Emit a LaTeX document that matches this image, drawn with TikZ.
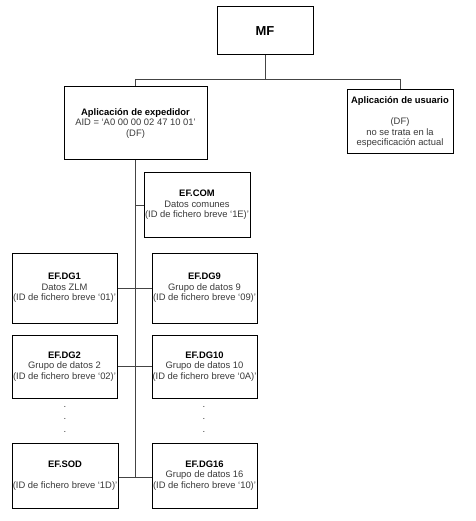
\documentclass[tikz,border=0pt]{standalone}
\usepackage{fontspec}
\setmainfont{Liberation Sans}
\definecolor{txt}{HTML}{3A3A3A}
\definecolor{ln}{HTML}{444444}
\begin{document}
\begin{tikzpicture}[x=1pt,y=-1pt,
  box/.style={draw=black,line width=1pt,fill=white,align=center,inner sep=0pt,
    font=\fontsize{9.4}{10.6}\selectfont,text=txt},
  conn/.style={draw=ln,line width=0.9pt},
  dotcol/.style={font=\fontsize{9.4}{12.5}\selectfont,text=txt,align=center,inner sep=0pt}]
\useasboundingbox[fill=white] (0,0) rectangle (475,521);
\newcommand{\ttl}[1]{\textcolor{black}{\bfseries #1}}
\node[box,minimum width=96,minimum height=48,font=\fontsize{13}{15}\selectfont] (mf) at (265,31) {\ttl{MF}};
\node[box,minimum width=143,minimum height=73] (exp) at (135.5,123.5) {\ttl{Aplicación de expedidor}\\AID = ‘A0 00 00 02 47 10 01’\\(DF)};
\node[box,minimum width=106,minimum height=64] (usr) at (400,122) {\ttl{Aplicación de usuario}\\[10.6pt](DF)\\no se trata en la\\especificación actual};
\node[box,minimum width=106,minimum height=64] (com) at (197,205) {\ttl{EF.COM}\\Datos comunes\\(ID de fichero breve ‘1E)’};
\node[box,minimum width=105,minimum height=70] (dg1) at (64.5,288) {\ttl{EF.DG1}\\Datos ZLM\\(ID de fichero breve ‘01)’};
\node[box,minimum width=105,minimum height=70] (dg9) at (204.5,288) {\ttl{EF.DG9}\\Grupo de datos 9\\(ID de fichero breve ‘09)’};
\node[box,minimum width=105,minimum height=63] (dg2) at (64.5,366.5) {\ttl{EF.DG2}\\Grupo de datos 2\\(ID de fichero breve ‘02)’};
\node[box,minimum width=105,minimum height=63] (dg10) at (204.5,366.5) {\ttl{EF.DG10}\\Grupo de datos 10\\(ID de fichero breve ‘0A)’};
\node[box,minimum width=106,minimum height=65] (sod) at (65,475.5) {\ttl{EF.SOD}\\[10.6pt](ID de fichero breve ‘1D)’};
\node[box,minimum width=105,minimum height=65] (dg16) at (204.5,475.5) {\ttl{EF.DG16}\\Grupo de datos 16\\(ID de fichero breve ‘10)’};
\node[dotcol] (dl) at (65,419) {.\\.\\.};
\node[dotcol] (dr) at (204,419) {.\\.\\.};
\coordinate (hub) at (265,79);
\coordinate (hl) at (135.5,79);
\coordinate (hr) at (400,79);
\coordinate (tb) at (135.5,477);
\draw[conn] (mf.south) -- (hub);
\draw[conn] (hl) -- (hr);
\draw[conn] (hl) -- (exp.north);
\draw[conn] (hr) -- (usr.north);
\draw[conn] (exp.south) -- (tb);
\draw[conn] (exp.south |- com.west) -- (com.west);
\draw[conn] (dg1.east) -- (dg9.west);
\draw[conn] (dg2.east) -- (dg10.west);
\draw[conn] (sod.east |- tb) -- (dg16.west |- tb);
\end{tikzpicture}
\end{document}
